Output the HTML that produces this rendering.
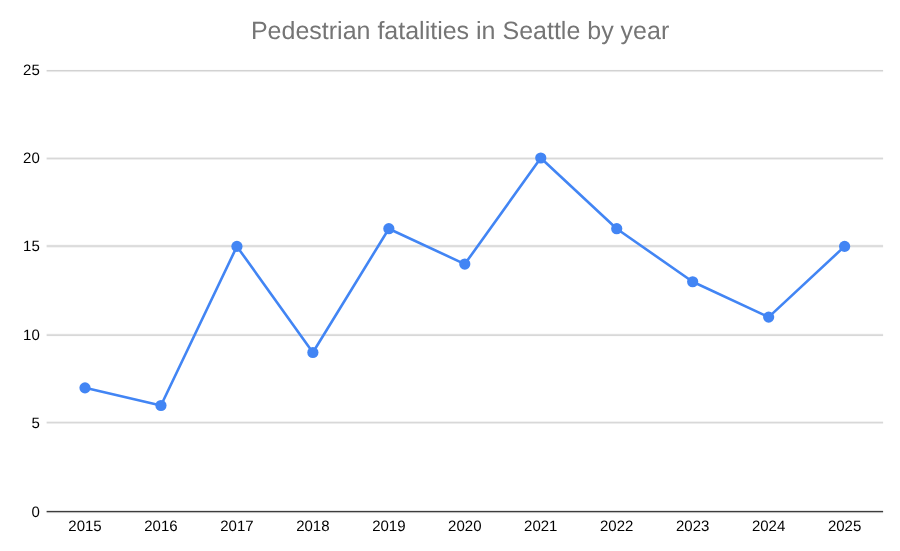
<!DOCTYPE html>
<html><head><meta charset="utf-8"><style>
html,body{margin:0;padding:0;background:#fff;overflow:hidden;}
svg{display:block;will-change:transform;text-rendering:geometricPrecision;font-family:"Liberation Sans",sans-serif;}
</style></head><body>
<svg width="900" height="551" viewBox="0 0 900 551">
<defs><filter id="lb" x="-5%" y="-5%" width="110%" height="110%"><feGaussianBlur stdDeviation="0.35"/></filter></defs><rect width="900" height="551" fill="#ffffff"/>
<g><rect x="46.6" y="69" width="836.50" height="1" fill="#fdfdfd"/><rect x="46.6" y="70" width="836.50" height="1" fill="#d2d2d2"/><rect x="46.6" y="71" width="836.50" height="1" fill="#e8e8e8"/><rect x="46.6" y="72" width="836.50" height="1" fill="#fdfdfd"/><rect x="46.6" y="157" width="836.50" height="1" fill="#eeeeee"/><rect x="46.6" y="158" width="836.50" height="1" fill="#d8d8d8"/><rect x="46.6" y="159" width="836.50" height="1" fill="#eeeeee"/><rect x="46.6" y="244" width="836.50" height="1" fill="#fafafa"/><rect x="46.6" y="245" width="836.50" height="1" fill="#dedede"/><rect x="46.6" y="246" width="836.50" height="1" fill="#dcdcdc"/><rect x="46.6" y="247" width="836.50" height="1" fill="#f4f4f4"/><rect x="46.6" y="333" width="836.50" height="1" fill="#fafafa"/><rect x="46.6" y="334" width="836.50" height="1" fill="#e0e0e0"/><rect x="46.6" y="335" width="836.50" height="1" fill="#d8d8d8"/><rect x="46.6" y="336" width="836.50" height="1" fill="#fcfcfc"/><rect x="46.6" y="421" width="836.50" height="1" fill="#f2f2f2"/><rect x="46.6" y="422" width="836.50" height="1" fill="#d8d8d8"/><rect x="46.6" y="423" width="836.50" height="1" fill="#ececec"/><rect x="46.6" y="510" width="836.50" height="1" fill="#e4e4e4"/><rect x="46.6" y="511" width="836.50" height="1" fill="#3c3c3c"/><rect x="46.6" y="512" width="836.50" height="1" fill="#bebebe"/><rect x="46.6" y="513" width="836.50" height="1" fill="#fafafa"/></g>
<text x="39.8" y="516.60" text-anchor="end" font-size="15" fill="#000000">0</text>
<text x="39.8" y="428.20" text-anchor="end" font-size="15" fill="#000000">5</text>
<text x="39.8" y="339.80" text-anchor="end" font-size="15" fill="#000000">10</text>
<text x="39.8" y="251.40" text-anchor="end" font-size="15" fill="#000000">15</text>
<text x="39.8" y="163.00" text-anchor="end" font-size="15" fill="#000000">20</text>
<text x="39.8" y="74.60" text-anchor="end" font-size="15" fill="#000000">25</text>
<text x="85.00" y="531" text-anchor="middle" font-size="15" fill="#000000">2015</text>
<text x="160.96" y="531" text-anchor="middle" font-size="15" fill="#000000">2016</text>
<text x="236.92" y="531" text-anchor="middle" font-size="15" fill="#000000">2017</text>
<text x="312.88" y="531" text-anchor="middle" font-size="15" fill="#000000">2018</text>
<text x="388.84" y="531" text-anchor="middle" font-size="15" fill="#000000">2019</text>
<text x="464.80" y="531" text-anchor="middle" font-size="15" fill="#000000">2020</text>
<text x="540.76" y="531" text-anchor="middle" font-size="15" fill="#000000">2021</text>
<text x="616.72" y="531" text-anchor="middle" font-size="15" fill="#000000">2022</text>
<text x="692.68" y="531" text-anchor="middle" font-size="15" fill="#000000">2023</text>
<text x="768.64" y="531" text-anchor="middle" font-size="15" fill="#000000">2024</text>
<text x="844.60" y="531" text-anchor="middle" font-size="15" fill="#000000">2025</text>
<g filter="url(#lb)">
<polyline points="85.00,387.84 160.96,405.52 236.92,246.40 312.88,352.48 388.84,228.72 464.80,264.08 540.76,158.00 616.72,228.72 692.68,281.76 768.64,317.12 844.60,246.40" fill="none" stroke="#4285f4" stroke-width="2.6" stroke-linejoin="round"/>
<circle cx="85.00" cy="387.84" r="5.6" fill="#4285f4"/>
<circle cx="160.96" cy="405.52" r="5.6" fill="#4285f4"/>
<circle cx="236.92" cy="246.40" r="5.6" fill="#4285f4"/>
<circle cx="312.88" cy="352.48" r="5.6" fill="#4285f4"/>
<circle cx="388.84" cy="228.72" r="5.6" fill="#4285f4"/>
<circle cx="464.80" cy="264.08" r="5.6" fill="#4285f4"/>
<circle cx="540.76" cy="158.00" r="5.6" fill="#4285f4"/>
<circle cx="616.72" cy="228.72" r="5.6" fill="#4285f4"/>
<circle cx="692.68" cy="281.76" r="5.6" fill="#4285f4"/>
<circle cx="768.64" cy="317.12" r="5.6" fill="#4285f4"/>
<circle cx="844.60" cy="246.40" r="5.6" fill="#4285f4"/>
</g>
<text x="460.1" y="39" text-anchor="middle" font-size="25" letter-spacing="0" fill="#757575">Pedestrian fatalities in Seattle by year</text>
</svg>
</body></html>
